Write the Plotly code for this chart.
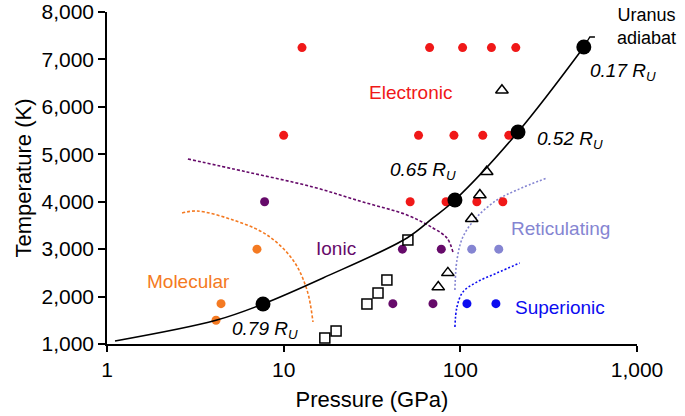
import math
import plotly.graph_objects as go

# ---- data (pressure in GPa, temperature in K) ----
electronic_p = [12.7, 67, 103, 150, 206, 10, 58, 92, 134, 188, 52, 83, 124, 174]
electronic_t = [7250, 7250, 7250, 7250, 7250, 5400, 5400, 5400, 5400, 5400, 4000, 4000, 4000, 4000]

ionic_p = [7.8, 47, 78, 41.5, 70]
ionic_t = [4000, 3000, 3000, 1850, 1850]

reticulating_p = [116, 165]
reticulating_t = [3000, 3000]

superionic_p = [109, 159]
superionic_t = [1850, 1850]

molecular_p = [7.06, 4.42, 4.14]
molecular_t = [3000, 1850, 1500]

squares_p = [17.1, 19.8, 29.6, 34.2, 38.4, 50.5]
squares_t = [1127, 1274, 1843, 2076, 2350, 3193]

triangles_p = [172, 141, 129, 116, 85, 75]
triangles_t = [6350, 4630, 4140, 3640, 2500, 2200]

adiabat_p = [1.11, 4.14, 7.64, 16.7, 49.9, 70, 93.2, 212, 500]
adiabat_t = [1063, 1500, 1843, 2392, 3235, 3657, 4036, 5470, 7262]
leader_p = [500, 541, 578]
leader_t = [7262, 7473, 7473]

radius_p = [7.64, 93.2, 212, 500]
radius_t = [1843, 4036, 5470, 7262]
radius_labels = ["0.79", "0.65", "0.52", "0.17"]

molecular_bnd_p = [2.66, 3.23, 5.17, 8.05, 11.29, 13.55, 14.65]
molecular_bnd_t = [3762, 3804, 3615, 3298, 2771, 2139, 1464]

ionic_bnd_p = [2.87, 6.20, 14.65, 28.1, 49.9, 70.0, 84.0, 90.8]
ionic_bnd_t = [4901, 4627, 4310, 3994, 3720, 3446, 3235, 2940]

retic_bnd_p = [93.2, 95.7, 103.4, 124.1, 161.1, 209, 309]
retic_bnd_t = [2139, 2771, 3256, 3678, 4036, 4247, 4500]

super_bnd_p = [93.2, 95.7, 103.4, 124.1, 161.1, 217]
super_bnd_t = [1358, 1780, 2096, 2307, 2497, 2708]

x_tickvals = [1, 10, 100, 1000]
x_ticktext = ["1", "10", "100", "1,000"]
y_tickvals = [1000, 2000, 3000, 4000, 5000, 6000, 7000, 8000]
y_ticktext = ["1,000", "2,000", "3,000", "4,000", "5,000", "6,000", "7,000", "8,000"]

RED = "#f01818"
PURPLE = "#660a6a"
LPURPLE = "#8585d2"
BLUE = "#0c0cf0"
ORANGE = "#f47a22"
FONT = "Liberation Sans, Arial, sans-serif"

fig = go.Figure()

def boundary(p, t, color, dash):
    fig.add_trace(go.Scatter(x=p, y=t, mode="lines", line=dict(color=color, width=1.6, dash=dash, shape="spline"),
                             hoverinfo="skip", showlegend=False))

boundary(molecular_bnd_p, molecular_bnd_t, ORANGE, "3px,2px")
boundary(ionic_bnd_p, ionic_bnd_t, PURPLE, "3px,2px")
boundary(retic_bnd_p, retic_bnd_t, LPURPLE, "2px,2px")
boundary(super_bnd_p, super_bnd_t, BLUE, "2px,2px")

def dots(p, t, color, size=9):
    fig.add_trace(go.Scatter(x=p, y=t, mode="markers", marker=dict(color=color, size=size, line=dict(width=0)),
                             showlegend=False))

dots(electronic_p, electronic_t, RED)
dots(ionic_p, ionic_t, PURPLE)
dots(reticulating_p, reticulating_t, LPURPLE)
dots(superionic_p, superionic_t, BLUE)
dots(molecular_p, molecular_t, ORANGE)

fig.add_trace(go.Scatter(x=squares_p, y=squares_t, mode="markers",
                         marker=dict(symbol="square", color="white", size=10, line=dict(color="black", width=1.5)),
                         showlegend=False))
fig.add_trace(go.Scatter(x=triangles_p, y=triangles_t, mode="markers",
                         marker=dict(symbol="triangle-up-open", color="black", size=11, line=dict(color="black", width=1.5)),
                         showlegend=False))

fig.add_trace(go.Scatter(x=adiabat_p, y=adiabat_t, mode="lines", line=dict(color="black", width=1.6, shape="spline"),
                         showlegend=False))
fig.add_trace(go.Scatter(x=leader_p, y=leader_t, mode="lines", line=dict(color="black", width=1.4),
                         showlegend=False))
fig.add_trace(go.Scatter(x=radius_p, y=radius_t, mode="markers", marker=dict(color="black", size=15),
                         showlegend=False))

ann = []
def label(text, p, t, color, xanchor="center", size=19):
    ann.append(dict(x=math.log10(p), y=t, xref="x", yref="y", text=text, showarrow=False,
                    xanchor=xanchor, yanchor="middle", font=dict(family=FONT, size=size, color=color)))

label("Electronic", 52.5, 6313, RED)
label("Ionic", 19.8, 3024, PURPLE)
label("Molecular", 2.89, 2328, ORANGE)
label("Reticulating", 368.6, 3425, LPURPLE)
label("Superionic", 368.6, 1780, BLUE)
label("Uranus<br>adiabat", 750, 7700, "black", xanchor="left", size=18)

r_pos = {"0.79": (4.97, 1300), "0.65": (38.9, 4640), "0.52": (264, 5310), "0.17": (527, 6745)}
for lab in radius_labels:
    p, t = r_pos[lab]
    label("<i>%s R<sub>U</sub></i>" % lab, p, t, "black", xanchor="left")

fig.update_layout(
    width=685, height=416,
    margin=dict(l=107, r=48, t=12, b=72),
    plot_bgcolor="white", paper_bgcolor="white",
    font=dict(family=FONT, size=21, color="black"),
    annotations=ann,
    showlegend=False,
)
fig.update_xaxes(type="log", range=[0, 3], tickvals=x_tickvals, ticktext=x_ticktext,
                 showgrid=False, zeroline=False, showline=True, linecolor="black", linewidth=1.5,
                 ticks="outside", ticklen=6, tickwidth=1.5, tickcolor="black",
                 tickfont=dict(size=21), title=dict(text="Pressure (GPa)", font=dict(size=22), standoff=12),
                 automargin=False)
fig.update_yaxes(range=[1000, 8000], tickvals=y_tickvals, ticktext=y_ticktext, ticklabeloverflow="allow",
                 showgrid=False, zeroline=False, showline=True, linecolor="black", linewidth=1.5,
                 ticks="outside", ticklen=7, tickwidth=1.5, tickcolor="black",
                 tickfont=dict(size=21), title=dict(text="Temperature (K)", font=dict(size=22), standoff=4),
                 automargin=False)

fig.write_html("out.html", config={"displayModeBar": False},
               post_script="document.body.style.margin='0';document.body.style.padding='0';")
